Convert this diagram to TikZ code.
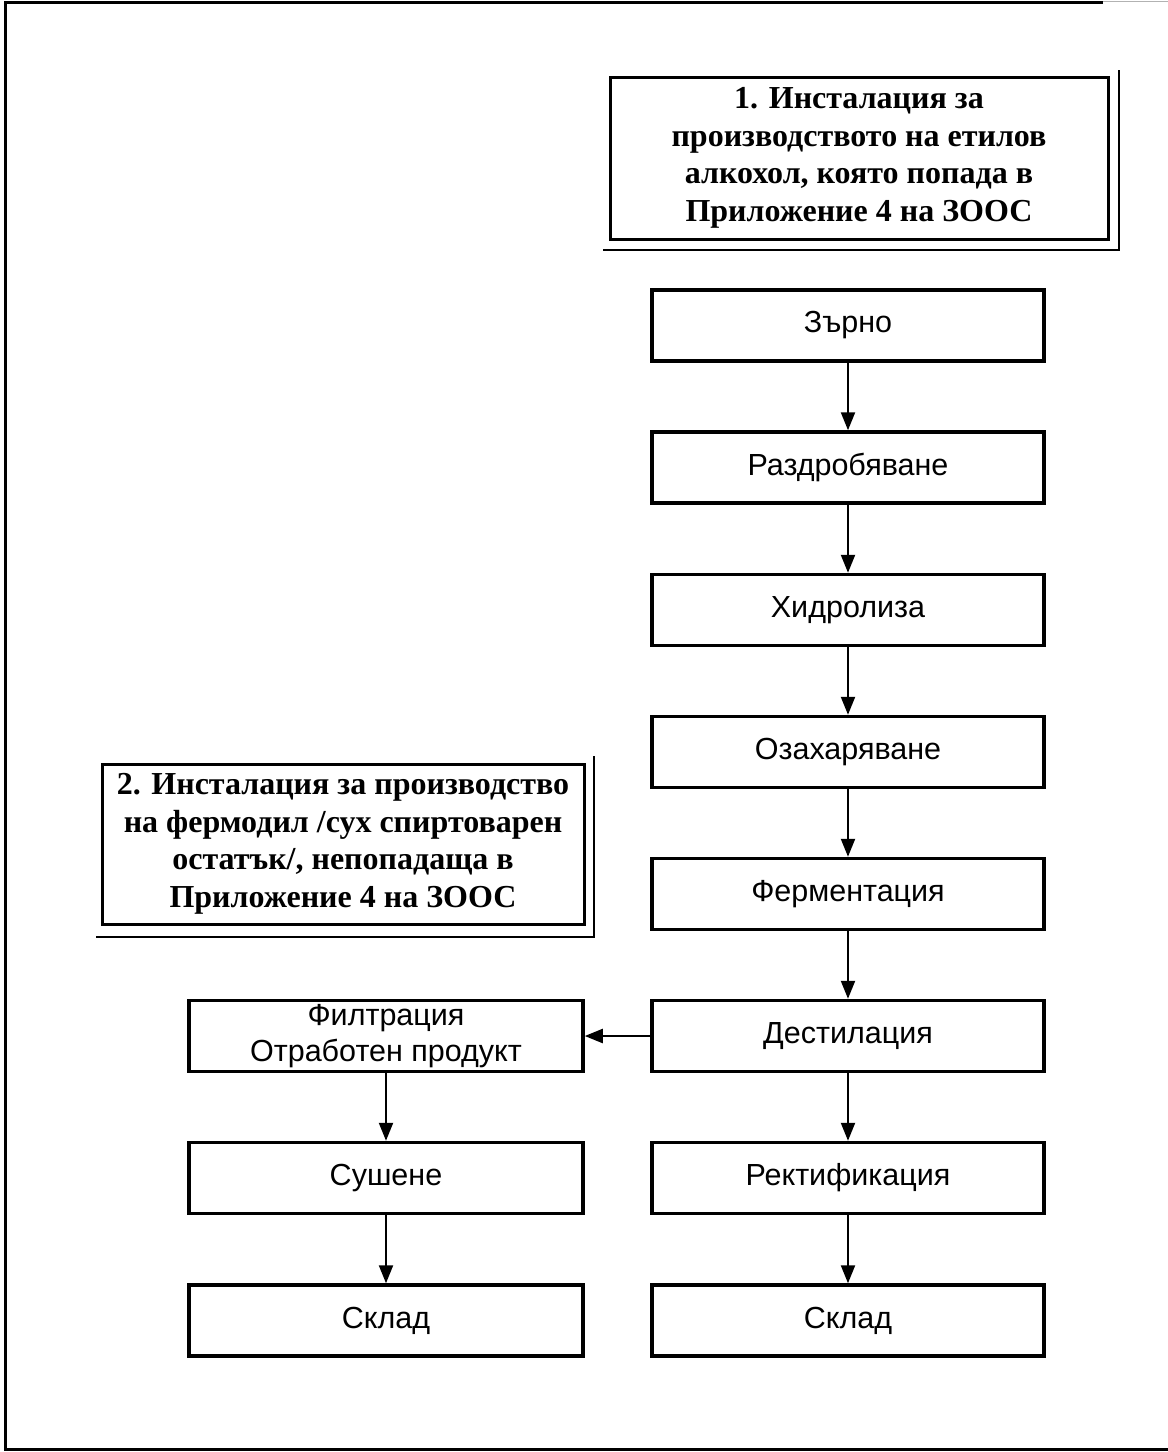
\documentclass[tikz,border=0pt]{standalone}
\usepackage{fontspec}
\setmainfont{Liberation Sans}
\newfontfamily\serifb{Liberation Serif}
\usetikzlibrary{arrows.meta}
\begin{document}
\begin{tikzpicture}[x=1pt,y=-1pt,
  procbox/.style={draw, line width=3.5pt, minimum width=392pt, minimum height=71pt, inner sep=0pt,
                  font=\fontsize{30.5}{36}\selectfont, align=center},
  flow/.style={line width=2.2pt, -{Triangle[length=18pt,width=14pt]}},
  hdr/.style={draw, line width=3pt, inner sep=0pt, align=center,
              font=\serifb\bfseries\fontsize{32}{37.5}\selectfont},
  shadowline/.style={line width=2.5pt},
  framel/.style={line width=3pt}
]
\useasboundingbox (0,0) rectangle (1168,1452);
% outer frame
\draw[framel] (1103,2) -- (5,2) -- (5,1449) -- (1168,1449);
\draw[line width=1pt, black!30] (1103,1.5) -- (1168,1.5);

% header 1
\node[hdr, minimum width=498pt, minimum height=162pt] (h1) at (859,158)
  {1. Инсталация за\\производството на етилов\\алкохол, която попада в\\Приложение 4 на ЗООС};
\draw[shadowline] (1119,70) -- (1119,250) -- (603,250);

% header 2
\node[hdr, minimum width=482pt, minimum height=160pt] (h2) at (343,844)
  {2. Инсталация за производство\\на фермодил /сух спиртоварен\\остатък/, непопадаща в\\Приложение 4 на ЗООС};
\draw[shadowline] (594,756) -- (594,937) -- (96,937);

% right column
\node[procbox] (zarno) at (848,325.5) {Зърно};
\node[procbox] (razd)  at (848,467.5) {Раздробяване};
\node[procbox] (hidr)  at (848,610)   {Хидролиза};
\node[procbox] (ozah)  at (848,752)   {Озахаряване};
\node[procbox] (ferm)  at (848,894)   {Ферментация};
\node[procbox] (dest)  at (848,1036)  {Дестилация};
\node[procbox] (rekt)  at (848,1178)  {Ректификация};
\node[procbox] (sklr)  at (848,1320.5){Склад};

% left column
\node[procbox, minimum width=394pt] (filt) at (386,1036) {Филтрация\\Отработен продукт};
\node[procbox, minimum width=394pt] (sush) at (386,1178) {Сушене};
\node[procbox, minimum width=394pt] (skll) at (386,1320.5) {Склад};

\draw[flow] (zarno) -- (razd);
\draw[flow] (razd) -- (hidr);
\draw[flow] (hidr) -- (ozah);
\draw[flow] (ozah) -- (ferm);
\draw[flow] (ferm) -- (dest);
\draw[flow] (dest) -- (rekt);
\draw[flow] (rekt) -- (sklr);
\draw[flow] (dest) -- (filt);
\draw[flow] (filt) -- (sush);
\draw[flow] (sush) -- (skll);
\end{tikzpicture}
\end{document}
